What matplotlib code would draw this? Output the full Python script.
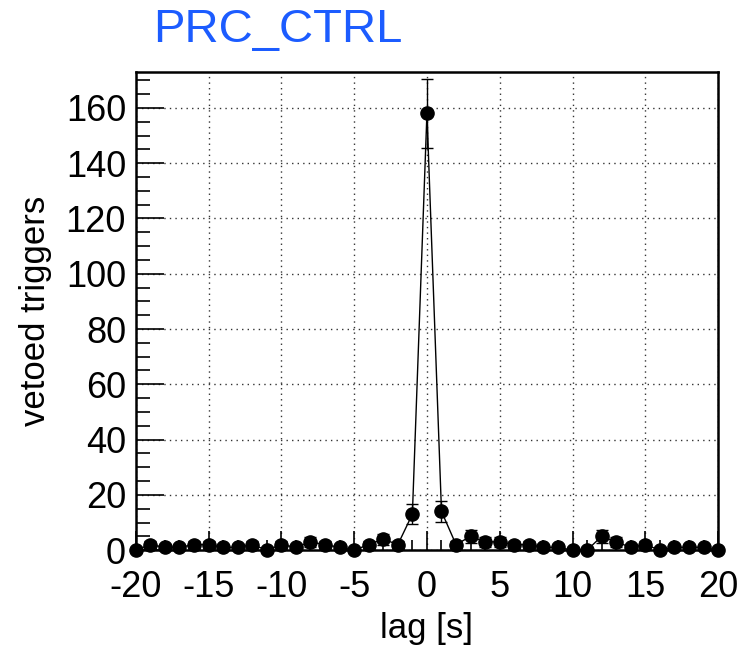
import numpy as np
import matplotlib
matplotlib.use('Agg')
import matplotlib.pyplot as plt
from matplotlib.ticker import MultipleLocator

# lag [s] and vetoed trigger counts
lags = list(range(-20, 21))
counts = [0, 2, 1, 1, 2, 2, 1, 1, 2, 0,
          2, 1, 3, 2, 1, 0, 2, 4, 2, 13,
          158,
          14, 2, 5, 3, 3, 2, 2, 1, 1, 0,
          0, 5, 3, 1, 2, 0, 1, 1, 1, 0]

x = np.array(lags)
y = np.array(counts, dtype=float)
err = np.sqrt(y)

plt.rcParams['font.family'] = ['Liberation Sans', 'DejaVu Sans']
plt.rcParams['axes.unicode_minus'] = False

fig = plt.figure(figsize=(7.38, 6.48), dpi=100)
ax = fig.add_axes([0.184, 0.151, 0.789, 0.738])

ax.plot(x, y, color='black', linewidth=1.0, zorder=3)
nz = y > 0
ax.errorbar(x[nz], y[nz], yerr=err[nz], fmt='none', ecolor='black',
            elinewidth=1.0, capsize=4.5, capthick=1.0, zorder=3)
ax.plot(x, y, 'o', color='black', markersize=9.5, zorder=4, clip_on=False)

ax.set_xlim(-20, 20)
ax.set_ylim(0, 173)

ax.xaxis.set_major_locator(MultipleLocator(5))
ax.xaxis.set_minor_locator(MultipleLocator(1))
ax.yaxis.set_major_locator(MultipleLocator(20))
ax.yaxis.set_minor_locator(MultipleLocator(5))

ax.tick_params(axis='both', which='both', direction='in', labelsize=26,
               top=False, right=False, width=1.2)
ax.tick_params(axis='x', which='major', length=14, pad=14)
ax.tick_params(axis='x', which='minor', length=7)
ax.tick_params(axis='y', which='major', length=20, pad=7)
ax.tick_params(axis='y', which='minor', length=10)

ax.grid(True, which='major', linestyle=(0, (1, 3)), color='black',
        linewidth=1.0, alpha=0.8)
ax.set_axisbelow(True)

for s in ax.spines.values():
    s.set_linewidth(1.8)

ax.set_xlabel('lag [s]', fontsize=25, labelpad=5)
ax.set_ylabel('vetoed triggers', fontsize=25, labelpad=10)

fig.text(0.207, 0.953, 'PRC_CTRL', color='#1c5cff', fontsize=34,
         ha='left', va='center')

fig.savefig('out.png', dpi=100)
